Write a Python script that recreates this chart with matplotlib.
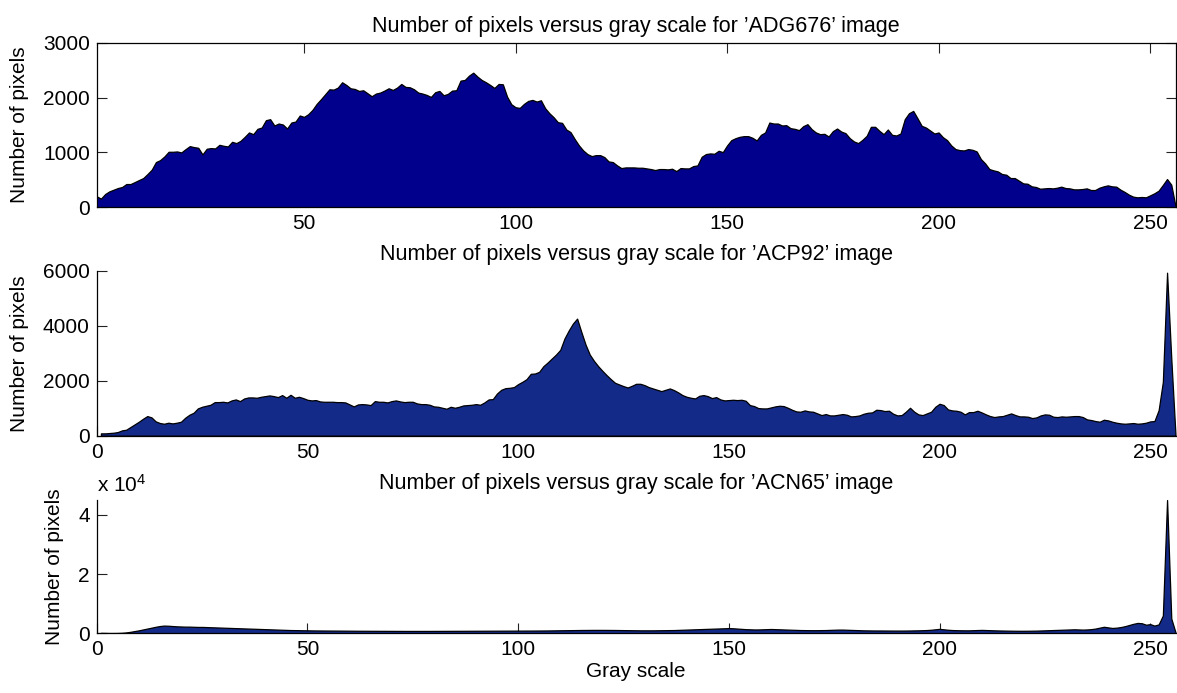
import numpy as np
import matplotlib
matplotlib.use("Agg")
import matplotlib.pyplot as plt

plt.rcParams['font.family'] = ['Liberation Sans', 'DejaVu Sans']
plt.rcParams['mathtext.fontset'] = 'custom'
plt.rcParams['mathtext.rm'] = 'Liberation Sans'
plt.rcParams['mathtext.it'] = 'Liberation Sans'

# ---------------- data ----------------
gray_top = np.arange(1, 257)
gray = np.arange(1, 257)

counts_adg676 = [
    200, 158, 242, 291, 321, 351, 370, 424, 424, 460,
    497, 533, 606, 685, 824, 860, 927, 1012, 1012, 1018,
    1000, 1060, 1115, 1097, 1085, 964, 1067, 1079, 1073, 1139,
    1121, 1109, 1194, 1170, 1212, 1285, 1364, 1333, 1430, 1454,
    1588, 1606, 1491, 1527, 1509, 1436, 1545, 1563, 1673, 1648,
    1697, 1776, 1885, 1970, 2060, 2151, 2145, 2182, 2279, 2230,
    2169, 2157, 2121, 2133, 2079, 2024, 2073, 2091, 2127, 2169,
    2139, 2182, 2248, 2194, 2188, 2151, 2091, 2073, 2048, 2012,
    2097, 2121, 2042, 2067, 2127, 2133, 2309, 2321, 2400, 2454,
    2382, 2321, 2279, 2230, 2176, 2248, 2242, 2018, 1879, 1824,
    1812, 1885, 1939, 1957, 1927, 1951, 1806, 1715, 1642, 1551,
    1539, 1418, 1370, 1242, 1127, 1036, 970, 933, 951, 951,
    915, 836, 824, 764, 715, 727, 727, 727, 721, 721,
    709, 697, 679, 697, 697, 691, 703, 660, 715, 709,
    709, 751, 764, 921, 970, 982, 976, 1030, 1006, 1127,
    1224, 1260, 1285, 1297, 1297, 1267, 1218, 1321, 1364, 1545,
    1527, 1527, 1491, 1497, 1442, 1430, 1406, 1479, 1515, 1424,
    1364, 1333, 1339, 1291, 1388, 1436, 1380, 1351, 1260, 1200,
    1170, 1230, 1303, 1467, 1467, 1394, 1333, 1418, 1321, 1309,
    1345, 1606, 1715, 1757, 1624, 1485, 1454, 1400, 1345, 1364,
    1279, 1224, 1127, 1061, 1042, 1036, 1061, 1048, 1018, 879,
    800, 697, 673, 654, 606, 594, 533, 533, 485, 436,
    430, 382, 370, 339, 345, 351, 345, 357, 376, 351,
    345, 327, 327, 333, 345, 315, 315, 357, 382, 400,
    382, 376, 321, 279, 230, 194, 182, 188, 182, 218,
    255, 303, 406, 515, 412, 18,
]

counts_acp92 = [
    85, 85, 97, 109, 133, 194, 218, 315, 412, 509,
    618, 715, 667, 521, 461, 436, 473, 448, 473, 509,
    654, 764, 836, 994, 1054, 1091, 1127, 1224, 1224, 1236,
    1212, 1285, 1321, 1260, 1357, 1394, 1394, 1382, 1418, 1442,
    1467, 1442, 1406, 1479, 1382, 1491, 1382, 1418, 1370, 1309,
    1285, 1297, 1248, 1236, 1236, 1236, 1224, 1224, 1212, 1139,
    1067, 1139, 1151, 1139, 1115, 1260, 1236, 1236, 1212, 1260,
    1285, 1248, 1224, 1236, 1236, 1176, 1151, 1151, 1127, 1067,
    1054, 1018, 982, 1054, 1018, 1054, 1103, 1115, 1127, 1151,
    1127, 1212, 1321, 1333, 1539, 1673, 1733, 1745, 1770, 1879,
    1963, 2060, 2254, 2266, 2327, 2533, 2666, 2812, 2957, 3127,
    3539, 3830, 4084, 4266, 3781, 3321, 2957, 2727, 2533, 2363,
    2206, 2060, 1927, 1866, 1806, 1757, 1818, 1891,
    1891, 1842, 1770, 1721, 1673, 1624, 1673, 1721, 1660, 1576,
    1479, 1418, 1382, 1357, 1454, 1479, 1442, 1370, 1406, 1321,
    1285, 1297, 1309, 1297, 1309, 1273, 1115, 1079, 1006, 994,
    994, 1030, 1067, 1091, 1079, 1018, 945, 885, 873, 921,
    885, 873, 812, 751, 788, 739, 739, 764, 788, 764,
    703, 715, 739, 800, 836, 848, 945, 933, 897, 909,
    800, 739, 751, 873, 1018, 873, 776, 751, 812, 873,
    1054, 1163, 1115, 957, 921, 909, 873, 776, 860, 860,
    909, 848, 776, 715, 679, 703, 715, 764, 812, 751,
    703, 703, 691, 642, 667, 739, 776, 764, 691, 679,
    703, 691, 703, 715, 715, 679, 594, 570, 533, 509,
    582, 557, 509, 473, 448, 436, 448, 461, 436, 448,
    473, 521, 533, 933, 1963, 5939, 2812, 24,
]

counts_acn65 = [
    150, 120, 100, 100, 120, 180, 300, 500, 750, 1000,
    1300, 1600, 1900, 2200, 2450, 2600, 2550, 2450, 2350, 2300,
    2250, 2250, 2200, 2150, 2150, 2100, 2050, 2000, 1950, 1900,
    1850, 1800, 1750, 1700, 1650, 1600, 1550, 1500, 1450, 1400,
    1350, 1300, 1250, 1200, 1150, 1100, 1080, 1050, 1020, 1000,
    980, 960, 950, 940, 930, 920, 910, 900, 890, 880,
    870, 860, 850, 850, 840, 840, 830, 830, 820, 820,
    810, 810, 800, 800, 800, 800, 800, 800, 800, 810,
    810, 820, 820, 830, 830, 840, 840, 850, 850, 860,
    860, 870, 870, 880, 880, 890, 890, 900, 900, 910,
    910, 920, 920, 930, 940, 950, 960, 980, 1000, 1020,
    1040, 1060, 1080, 1100, 1120, 1130, 1140, 1150, 1150, 1150,
    1140, 1130, 1120, 1100, 1080, 1060, 1040, 1020, 1000, 1000,
    1000, 1000, 1020, 1040, 1060, 1080, 1100, 1150, 1200, 1250,
    1300, 1350, 1400, 1450, 1500, 1550, 1600, 1650, 1700, 1750,
    1700, 1600, 1500, 1400, 1350, 1300, 1300, 1350, 1400, 1450,
    1400, 1350, 1300, 1250, 1200, 1150, 1100, 1080, 1060, 1050,
    1050, 1080, 1100, 1150, 1200, 1250, 1250, 1200, 1150, 1100,
    1050, 1000, 980, 960, 950, 950, 940, 930, 920, 920,
    920, 930, 950, 980, 1000, 1050, 1100, 1200, 1350, 1500,
    1350, 1200, 1100, 1050, 1020, 1000, 1000, 1050, 1100, 1150,
    1100, 1050, 1000, 960, 930, 900, 880, 860, 850, 850,
    860, 880, 900, 950, 1000, 1050, 1100, 1150, 1200, 1250,
    1300, 1350, 1300, 1250, 1300, 1400, 1600, 1900, 2200, 2000,
    1800, 1900, 2100, 2400, 2800, 3200, 3500, 3400, 2900, 3100,
    2600, 3000, 6000, 45000, 5000, 300,
]

titles = [
    "Number of pixels versus gray scale for ’ADG676’ image",
    "Number of pixels versus gray scale for ’ACP92’ image",
    "Number of pixels versus gray scale for ’ACN65’ image",
]
ylabel = "Number of pixels"
xlabel = "Gray scale"

top_xticks = [50, 100, 150, 200, 250]
top_yticks = [0, 1000, 2000, 3000]
mid_xticks = [0, 50, 100, 150, 200, 250]
mid_yticks = [0, 2000, 4000, 6000]
bot_yticks = [0, 20000, 40000]
bot_yticklabels = ["0", "2", "4"]

# ---------------- figure ----------------
W, H = 1177, 693
fig = plt.figure(figsize=(W / 100, H / 100), dpi=100)

def frac_rect(left, right, top, bottom):
    return [left / W, 1 - bottom / H, (right - left) / W, (bottom - top) / H]

ax1 = fig.add_axes(frac_rect(96.7, 1175.5, 42.7, 207.3))
ax2 = fig.add_axes(frac_rect(96.7, 1175.5, 271.0, 435.7))
ax3 = fig.add_axes(frac_rect(96.7, 1175.5, 500.0, 633.3))

FS = 15
top_color = '#00008C'
other_color = '#142A88'

def style(ax, box):
    ax.set_axisbelow(True)
    ax.tick_params(direction='in', length=7, width=0.8, labelsize=FS,
                   pad=5, color='#222222')
    for s in ax.spines.values():
        s.set_linewidth(0.9)
        s.set_zorder(3)
    if box:
        ax.tick_params(top=True, right=True)
    else:
        ax.spines['top'].set_visible(False)
        ax.spines['right'].set_visible(False)

# top
ax1.fill_between(gray_top, counts_adg676, 0, facecolor=top_color,
                 edgecolor='black', linewidth=0.9, zorder=1)
ax1.set_xlim(1, 256)
ax1.set_ylim(0, 3000)
ax1.set_xticks(top_xticks)
ax1.set_yticks(top_yticks)
style(ax1, True)
ax1.set_title(titles[0], fontsize=FS + 0.5, pad=8)
ax1.set_ylabel(ylabel, fontsize=FS)
ax1.yaxis.set_label_coords(-0.063, 0.5)

# middle
ax2.fill_between(gray, counts_acp92, 0, facecolor=other_color,
                 edgecolor='black', linewidth=0.9, zorder=1)
ax2.set_xlim(0, 256)
ax2.set_ylim(0, 6000)
ax2.set_xticks(mid_xticks)
ax2.set_yticks(mid_yticks)
style(ax2, False)
ax2.set_title(titles[1], fontsize=FS + 0.5, pad=8)
ax2.set_ylabel(ylabel, fontsize=FS)
ax2.yaxis.set_label_coords(-0.063, 0.5)

# bottom
ax3.fill_between(gray, counts_acn65, 0, facecolor=other_color,
                 edgecolor='black', linewidth=0.9, zorder=1)
ax3.set_xlim(0, 256)
ax3.set_ylim(0, max(counts_acn65))
ax3.set_xticks(mid_xticks)
ax3.set_yticks(bot_yticks, bot_yticklabels)
style(ax3, False)
ax3.set_title(titles[2], fontsize=FS + 0.5, pad=8)
ax3.set_ylabel(ylabel, fontsize=FS)
ax3.yaxis.set_label_coords(-0.030, 0.5)
ax3.set_xlabel(xlabel, fontsize=FS, labelpad=2)
ax3.text(0.0, 1.035, "x 10$^{4}$", transform=ax3.transAxes,
         ha='left', va='bottom', fontsize=FS)

fig.savefig("out.png", dpi=100, facecolor='white')
